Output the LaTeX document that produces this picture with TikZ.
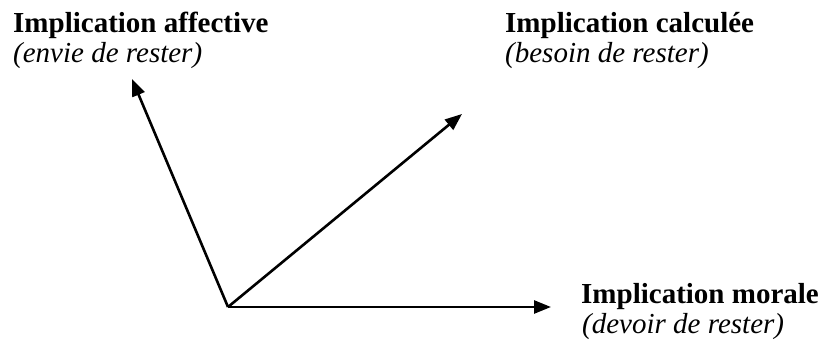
\documentclass[tikz,border=0pt]{standalone}
\usepackage{fontspec}
\setmainfont{Liberation Serif}
\usetikzlibrary{arrows.meta}
\begin{document}
\begin{tikzpicture}[x=1pt,y=-1pt,
  title/.style={anchor=base west,inner sep=0pt,font=\fontsize{29}{31}\selectfont\bfseries},
  sub/.style={anchor=base west,inner sep=0pt,font=\fontsize{29}{31}\selectfont\itshape},
  vec/.style={line width=2.6pt,-{Triangle[length=17pt,width=13pt]}}]
\useasboundingbox (0,0) rectangle (821,344);
\node[title] (aff) at (13,33) {Implication affective};
\node[sub] (affs) at (13,63) {(envie de rester)};
\node[title] (cal) at (505,33) {Implication calculée};
\node[sub] (cals) at (505,63) {(besoin de rester)};
\node[title] (mor) at (581,303) {Implication morale};
\node[sub] (mors) at (582,333) {(devoir de rester)};
\coordinate (O) at (228,307);
\coordinate (A) at (132,79);
\coordinate (C) at (462,114);
\coordinate (M) at (551,307);
\draw[vec] (O) -- (A);
\draw[vec] (O) -- (C);
\draw[vec] (O) -- (M);
\end{tikzpicture}
\end{document}
